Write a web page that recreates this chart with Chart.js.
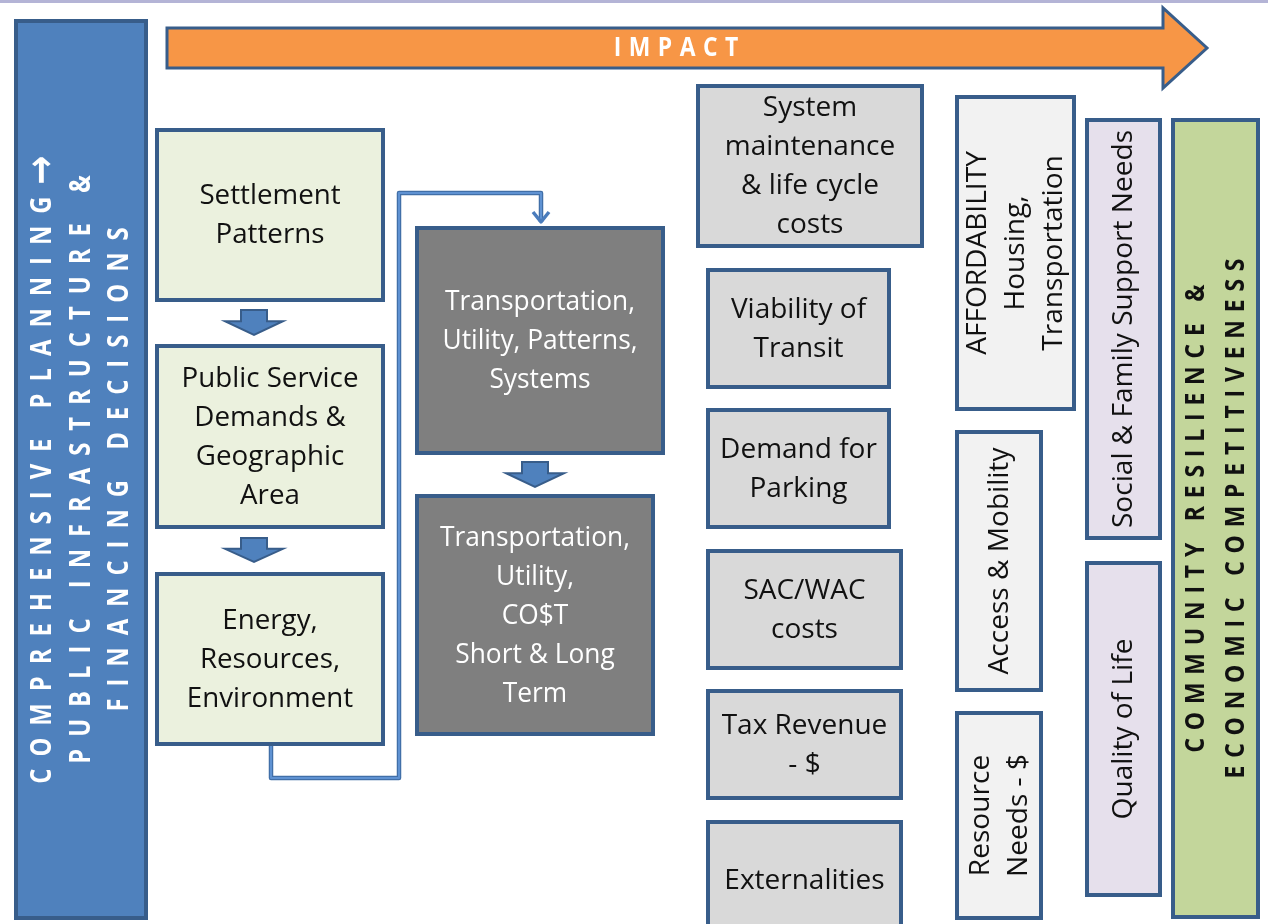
<!DOCTYPE html>
<html>
<head>
<meta charset="utf-8">
<title>Planning impact diagram</title>
<script src="https://cdn.jsdelivr.net/npm/chart.js@4.4.1/dist/chart.umd.min.js"></script>
<style>
  html, body { margin: 0; padding: 0; background: #ffffff; }
  #wrap { width: 1268px; height: 924px; }
</style>
</head>
<body>
<div id="wrap"><canvas id="diagram" width="1268" height="924"></canvas></div>
<script>
// diagram units: one unit per reference pixel, y grows downward
const nodeLabels = [
    'COMPREHENSIVE PLANNING\u2192\nPUBLIC INFRASTRUCTURE &\nFINANCING DECISIONS',
    'Settlement\nPatterns',
    'Public Service\nDemands &\nGeographic\nArea',
    'Energy,\nResources,\nEnvironment',
    'Transportation,\nUtility, Patterns,\nSystems',
    'Transportation,\nUtility,\nCO$T\nShort & Long\nTerm',
    'System\nmaintenance\n& life cycle\ncosts',
    'Viability of\nTransit',
    'Demand for\nParking',
    'SAC/WAC\ncosts',
    'Tax Revenue\n- $',
    'Externalities',
    'AFFORDABILITY\nHousing,\nTransportation',
    'Access & Mobility',
    'Resource\nNeeds - $',
    'Social & Family Support Needs',
    'Quality of Life',
    'COMMUNITY RESILIENCE &\nECONOMIC COMPETITIVENESS'
];
const nodeLeft   = [14, 155, 155, 155, 415, 415, 696, 706, 706, 706, 706, 706, 955, 955, 955, 1085, 1085, 1171];
const nodeRight  = [148, 385, 385, 385, 665, 655, 924, 891, 891, 903, 903, 903, 1076, 1043, 1043, 1162, 1162, 1260];
const nodeTop    = [19, 128, 344, 572, 226, 494, 84, 268, 408, 549, 689, 820, 95, 430, 711, 118, 561, 118];
const nodeBottom = [920, 302, 529, 746, 455, 736, 248, 389, 529, 670, 800, 940, 411, 692, 920, 540, 897, 919];
const nodeGroup  = ['planning', 'input', 'input', 'input', 'system', 'system',
                    'cost', 'cost', 'cost', 'cost', 'cost', 'cost',
                    'need', 'need', 'need', 'social', 'social', 'outcome'];

// block arrows between stacked boxes
const stepArrowX      = [254, 254, 535];
const stepArrowTop    = [310, 538, 462];
const stepArrowBottom = [335, 562, 487];

// elbow connector from the input column to the systems column
const connectorX = [271, 271, 399, 399, 541, 541];
const connectorY = [746, 778, 778, 193, 193, 222];

// IMPACT arrow along the top
const impactLabel = 'IMPACT';
const impactStart = 167;
const impactEnd = 1207;
const impactCenter = 48;

const BORDER = '#385d8a';

const groupStyle = {
    planning: { fill: '#4f81bd', color: '#ffffff', font: 'bold 28px "Open Sans"', rotate: true, lineHeight: 38.5, spacing: 12, condense: 0.85 },
    input:    { fill: '#ebf1de', color: '#111111', font: '28px "Open Sans"', rotate: false, lineHeight: 39, spacing: 0, condense: 0.99 },
    system:   { fill: '#7f7f7f', color: '#ffffff', font: '28px "Open Sans"', rotate: false, lineHeight: 39, spacing: 0, condense: 0.94 },
    cost:     { fill: '#d9d9d9', color: '#111111', font: '28px "Open Sans"', rotate: false, lineHeight: 39, spacing: 0, condense: 1 },
    need:     { fill: '#f2f2f2', color: '#111111', font: '27px "Open Sans"', rotate: true, lineHeight: 38, spacing: 0, condense: 1.04 },
    social:   { fill: '#e6e0ec', color: '#111111', font: '27px "Open Sans"', rotate: true, lineHeight: 38, spacing: 0, condense: 1.04 },
    outcome:  { fill: '#c3d69b', color: '#111111', font: 'bold 27px "Open Sans"', rotate: true, lineHeight: 40, spacing: 7.8, condense: 0.85 }
};

function drawSpaced(ctx, text, cx, cy, spacing, condense) {
    const baseFont = ctx.font;
    const size = parseFloat(baseFont.match(/(\d+(\.\d+)?)px/)[1]);
    const chars = Array.from(text);
    const fontFor = c => c === '\u2192' ? 'bold ' + Math.round(size * 1.45) + 'px "DejaVu Sans"' : baseFont;
    const widths = chars.map(c => {
        ctx.font = fontFor(c);
        return ctx.measureText(c).width * condense;
    });
    const total = widths.reduce((a, b) => a + b, 0) + spacing * (chars.length - 1);
    let x = cx - total / 2;
    ctx.textAlign = 'left';
    chars.forEach((c, i) => {
        ctx.font = fontFor(c);
        ctx.save();
        ctx.translate(x, cy);
        ctx.scale(condense, 1);
        ctx.fillText(c, 0, 0);
        ctx.restore();
        x += widths[i] + spacing;
    });
    ctx.font = baseFont;
}

const diagramPlugin = {
    id: 'diagram',
    beforeDraw(chart) {
        const ctx = chart.ctx;
        ctx.save();
        ctx.fillStyle = '#ffffff';
        ctx.fillRect(0, 0, chart.width, chart.height);
        ctx.restore();
    },
    beforeDatasetsDraw(chart) {
        const ctx = chart.ctx;
        const xs = chart.scales.x;
        const ys = chart.scales.y;
        const px = v => xs.getPixelForValue(v);
        const py = v => ys.getPixelForValue(v);

        ctx.save();

        // thin frame line on top
        ctx.fillStyle = '#b4b4d6';
        ctx.fillRect(px(0), py(0), px(1268) - px(0), 3);

        // impact arrow
        const shaftHalf = 20, headHalf = 40, headLen = 44;
        ctx.beginPath();
        ctx.moveTo(px(impactStart), py(impactCenter - shaftHalf));
        ctx.lineTo(px(impactEnd - headLen), py(impactCenter - shaftHalf));
        ctx.lineTo(px(impactEnd - headLen), py(impactCenter - headHalf));
        ctx.lineTo(px(impactEnd), py(impactCenter));
        ctx.lineTo(px(impactEnd - headLen), py(impactCenter + headHalf));
        ctx.lineTo(px(impactEnd - headLen), py(impactCenter + shaftHalf));
        ctx.lineTo(px(impactStart), py(impactCenter + shaftHalf));
        ctx.closePath();
        ctx.fillStyle = '#f79646';
        ctx.fill();
        ctx.lineWidth = 3;
        ctx.strokeStyle = BORDER;
        ctx.lineJoin = 'miter';
        ctx.stroke();

        ctx.fillStyle = '#ffffff';
        ctx.font = 'bold 26px "Open Sans"';
        ctx.textBaseline = 'middle';
        drawSpaced(ctx, impactLabel, px(676), py(impactCenter + 1), 7.5, 0.88);

        // connector
        ctx.beginPath();
        connectorX.forEach((x, i) => {
            if (i === 0) ctx.moveTo(px(x), py(connectorY[i]));
            else ctx.lineTo(px(x), py(connectorY[i]));
        });
        ctx.lineJoin = 'round';
        ctx.lineWidth = 4.5;
        ctx.strokeStyle = '#416fa8';
        ctx.stroke();
        ctx.lineWidth = 2;
        ctx.strokeStyle = '#5f92d2';
        ctx.stroke();
        const tipX = px(connectorX[connectorX.length - 1]);
        const tipY = py(connectorY[connectorY.length - 1]);
        ctx.beginPath();
        ctx.moveTo(tipX - 8, tipY - 10);
        ctx.lineTo(tipX, tipY);
        ctx.lineTo(tipX + 8, tipY - 10);
        ctx.lineWidth = 3.5;
        ctx.strokeStyle = '#4a7cbc';
        ctx.stroke();
        ctx.lineJoin = 'miter';

        // boxes
        nodeLabels.forEach((label, i) => {
            const st = groupStyle[nodeGroup[i]];
            const x0 = px(nodeLeft[i]), x1 = px(nodeRight[i]);
            const y0 = py(nodeTop[i]), y1 = py(nodeBottom[i]);
            ctx.fillStyle = st.fill;
            ctx.fillRect(x0, y0, x1 - x0, y1 - y0);
            ctx.lineWidth = 4;
            ctx.strokeStyle = BORDER;
            ctx.strokeRect(x0 + 2, y0 + 2, x1 - x0 - 4, y1 - y0 - 4);

            const lines = label.split('\n');
            const cx = (x0 + x1) / 2, cy = (y0 + y1) / 2;
            ctx.fillStyle = st.color;
            ctx.font = st.font;
            ctx.textBaseline = 'middle';
            ctx.save();
            ctx.translate(cx, cy);
            if (st.rotate) ctx.rotate(-Math.PI / 2);
            lines.forEach((line, k) => {
                const off = (k - (lines.length - 1) / 2) * st.lineHeight;
                drawSpaced(ctx, line, 0, off + 1, st.spacing, st.condense);
            });
            ctx.restore();
        });

        // block arrows
        stepArrowX.forEach((ax, i) => {
            const top = py(stepArrowTop[i]), bot = py(stepArrowBottom[i]);
            const cx = px(ax);
            const neck = top + (bot - top) * 0.45;
            ctx.beginPath();
            ctx.moveTo(cx - 13, top);
            ctx.lineTo(cx + 13, top);
            ctx.lineTo(cx + 13, neck);
            ctx.lineTo(cx + 29, neck);
            ctx.lineTo(cx, bot);
            ctx.lineTo(cx - 29, neck);
            ctx.lineTo(cx - 13, neck);
            ctx.closePath();
            ctx.fillStyle = '#4f81bd';
            ctx.fill();
            ctx.lineWidth = 2;
            ctx.strokeStyle = BORDER;
            ctx.stroke();
        });

        ctx.restore();
    }
};

const canvas = document.getElementById('diagram');
new Chart(canvas.getContext('2d'), {
    type: 'scatter',
    data: { datasets: [{ data: [] }] },
    options: {
        responsive: false,
        animation: false,
        devicePixelRatio: 1,
        layout: { padding: 0 },
        plugins: {
            legend: { display: false },
            tooltip: { enabled: false }
        },
        scales: {
            x: { type: 'linear', min: 0, max: 1268, display: false },
            y: { type: 'linear', min: 0, max: 924, reverse: true, display: false }
        }
    },
    plugins: [diagramPlugin]
});
</script>
</body>
</html>
